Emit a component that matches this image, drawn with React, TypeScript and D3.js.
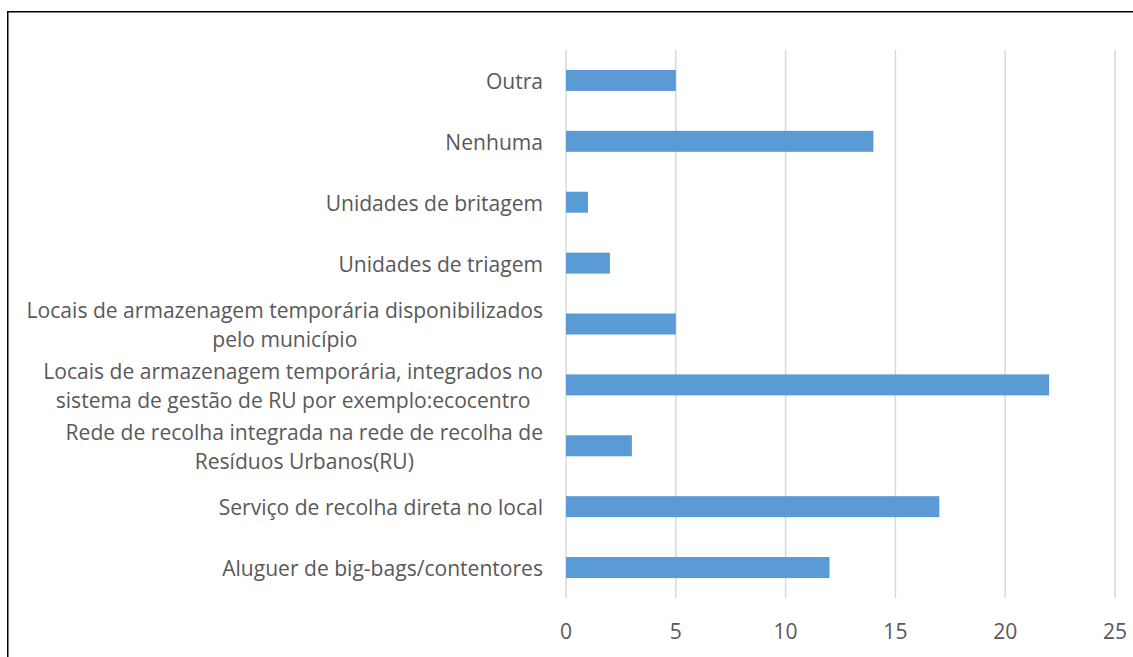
import React, { useEffect, useRef } from "react";
import * as d3 from "d3";

const categories: string[][] = [
  ["Outra"],
  ["Nenhuma"],
  ["Unidades de britagem"],
  ["Unidades de triagem"],
  ["Locais de armazenagem temporária disponibilizados", "pelo município"],
  ["Locais de armazenagem temporária, integrados no", "sistema de gestão de RU por exemplo:ecocentro"],
  ["Rede de recolha integrada na rede de recolha de", "Resíduos Urbanos(RU)"],
  ["Serviço de recolha direta no local"],
  ["Aluguer de big-bags/contentores"],
];
const values: number[] = [5, 14, 1, 2, 5, 22, 3, 17, 12];
const tickValues: number[] = [0, 5, 10, 15, 20, 25];

const W = 1133;
const H = 657;
const FONT = "'Open Sans', sans-serif";
const TEXT_COLOR = "#595959";
const BAR_COLOR = "#5b9bd5";
const GRID_COLOR = "#d9d9d9";

export default function App() {
  const ref = useRef<SVGSVGElement | null>(null);

  useEffect(() => {
    const svg = d3.select(ref.current);
    svg.selectAll("*").remove();

    // measure font to match reference label width
    const probe = svg
      .append("text")
      .attr("font-family", FONT)
      .attr("font-size", 20)
      .text("Aluguer de big-bags/contentores");
    const pw = (probe.node() as SVGTextElement).getComputedTextLength();
    probe.remove();
    const fs = (20 * 321) / pw;

    const x = d3.scaleLinear().domain([0, 25]).range([566, 1115]);
    const y = d3
      .scaleBand<number>()
      .domain(d3.range(categories.length))
      .range([50, 598])
      .paddingInner(0.655)
      .paddingOuter(0.3275);

    // gridlines
    svg
      .append("g")
      .selectAll("line")
      .data(tickValues)
      .join("line")
      .attr("x1", (d) => x(d))
      .attr("x2", (d) => x(d))
      .attr("y1", 50)
      .attr("y2", 598)
      .attr("stroke", GRID_COLOR)
      .attr("stroke-width", 1.5);

    // bars
    svg
      .append("g")
      .selectAll("rect")
      .data(values)
      .join("rect")
      .attr("x", x(0))
      .attr("y", (_, i) => y(i)!)
      .attr("width", (d) => x(d) - x(0))
      .attr("height", y.bandwidth())
      .attr("fill", BAR_COLOR);

    // tick labels
    svg
      .append("g")
      .selectAll("text")
      .data(tickValues)
      .join("text")
      .attr("x", (d) => x(d))
      .attr("y", 630)
      .attr("text-anchor", "middle")
      .attr("dominant-baseline", "central")
      .attr("font-family", FONT)
      .attr("font-size", fs)
      .attr("fill", TEXT_COLOR)
      .text((d) => String(d));

    // category labels
    const rightEdge = 543;
    const lineH = 28.5;
    const lg = svg.append("g");
    categories.forEach((lines, i) => {
      const cy = y(i)! + y.bandwidth() / 2;
      const g = lg.append("g");
      const texts = lines.map((ln, k) =>
        g
          .append("text")
          .attr("y", cy + (k - (lines.length - 1) / 2) * lineH)
          .attr("dominant-baseline", "central")
          .attr("text-anchor", "middle")
          .attr("font-family", FONT)
          .attr("font-size", fs)
          .attr("fill", TEXT_COLOR)
          .text(ln)
      );
      const maxW = d3.max(texts, (t) => (t.node() as SVGTextElement).getComputedTextLength()) || 0;
      const cx = rightEdge - maxW / 2;
      texts.forEach((t) => t.attr("x", cx));
    });

    // border
    svg
      .append("line")
      .attr("x1", 7.75)
      .attr("x2", 7.75)
      .attr("y1", 11)
      .attr("y2", H)
      .attr("stroke", "#000")
      .attr("stroke-width", 1.5);
    svg
      .append("line")
      .attr("x1", 7)
      .attr("x2", W)
      .attr("y1", 11.75)
      .attr("y2", 11.75)
      .attr("stroke", "#000")
      .attr("stroke-width", 1.5);
  }, []);

  return (
    <svg
      ref={ref}
      width={W}
      height={H}
      style={{ position: "absolute", left: 0, top: 0, background: "#fff" }}
    />
  );
}
